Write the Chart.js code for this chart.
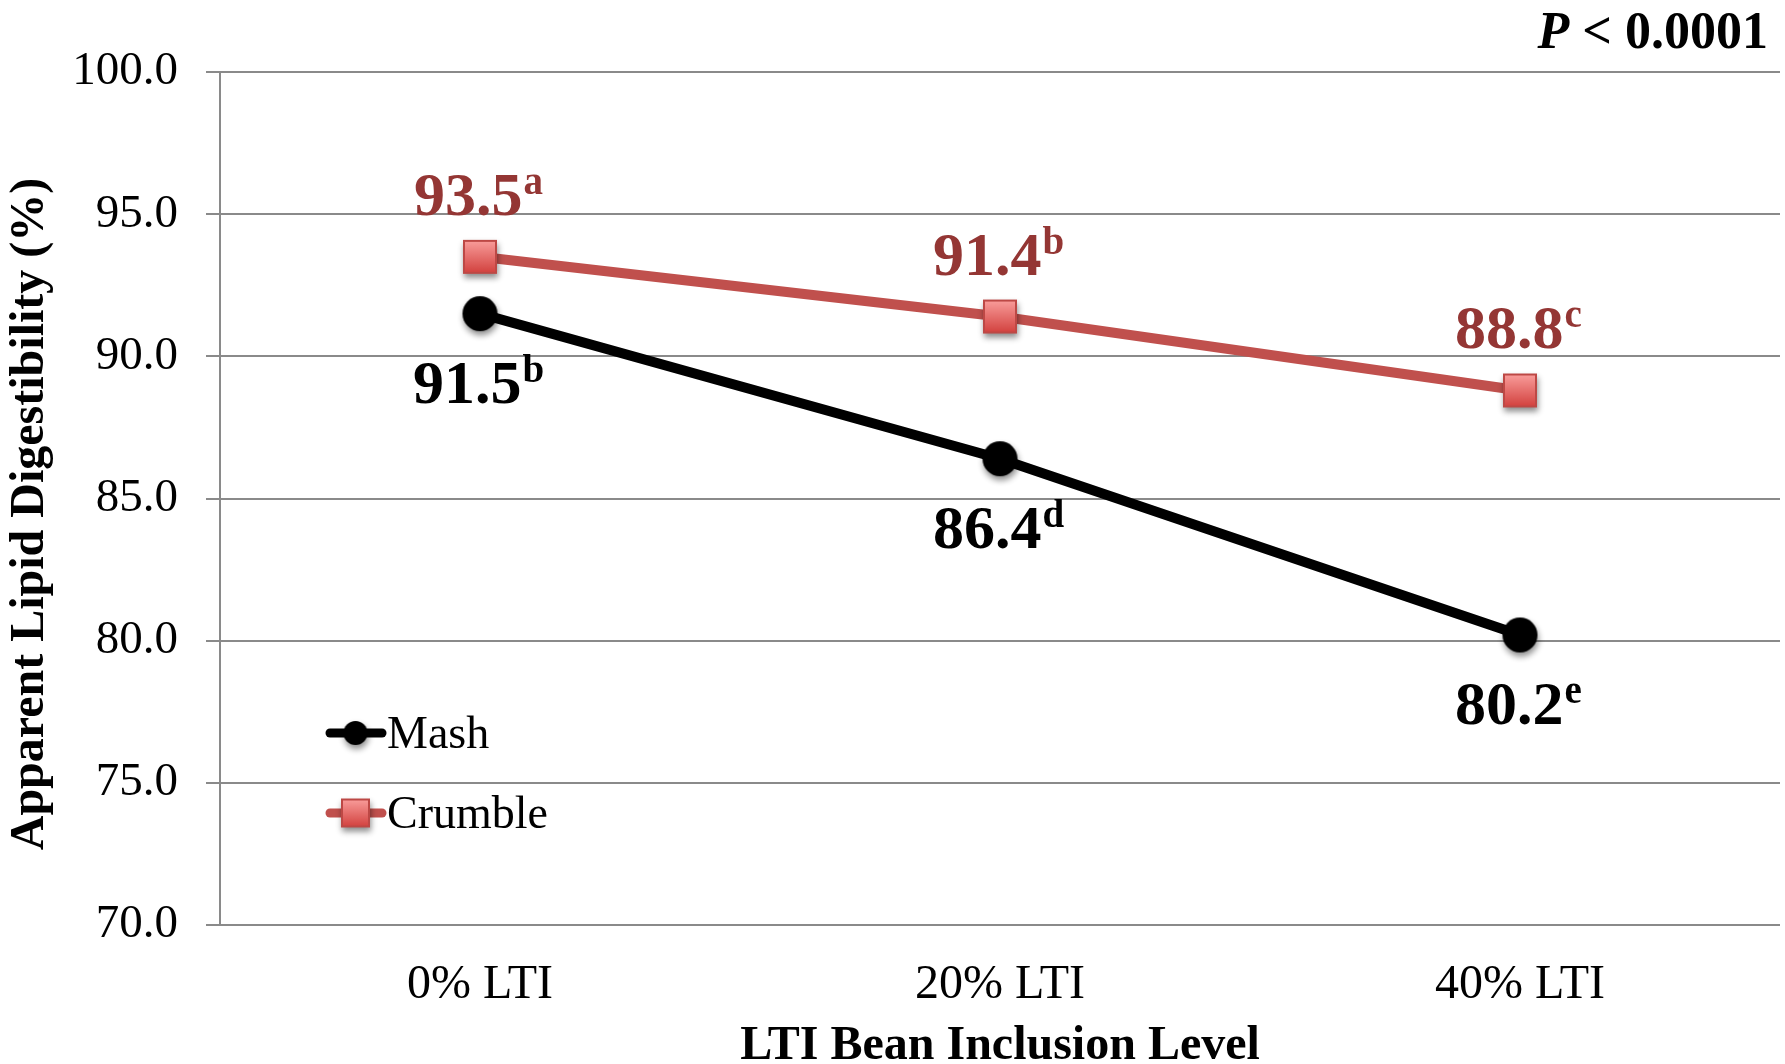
<!DOCTYPE html>
<html>
<head>
<meta charset="utf-8">
<title>Apparent Lipid Digestibility</title>
<script src="https://cdn.jsdelivr.net/npm/chart.js@4/dist/chart.umd.min.js"></script>
<style>
  html, body { margin: 0; padding: 0; background: #ffffff; overflow: hidden; }
  #wrap { width: 1785px; height: 1064px; position: relative; }
  #chart { display: block; }
</style>
</head>
<body>
<div id="wrap"><canvas id="chart"></canvas></div>
<script>
// ---- data ----
const categories = ['0% LTI', '20% LTI', '40% LTI'];
const mashValues = [91.5, 86.4, 80.2];
const crumbleValues = [93.5, 91.4, 88.8];
const mashLetters = ['b', 'd', 'e'];
const crumbleLetters = ['a', 'b', 'c'];
const yTickLabels = ['70.0', '75.0', '80.0', '85.0', '90.0', '95.0', '100.0'];
const seriesNames = ['Mash', 'Crumble'];
const xTitle = 'LTI Bean Inclusion Level';
const yTitle = 'Apparent Lipid Digestibility (%)';
const pItalic = 'P';
const pRest = ' < 0.0001';

// ---- style ----
const SERIF = '"Liberation Serif", "Times New Roman", Times, serif';
const GRID = '#8a8a8a';
const CRUMBLE_LINE = '#c0504d';
const CRUMBLE_TEXT = '#943634';

// Marker sprites with a soft drop shadow
function markerCanvas(kind, size) {
  const pad = 12;
  const dim = Math.round(size + pad * 2);
  const cv = document.createElement('canvas');
  cv.width = dim; cv.height = dim;
  const g = cv.getContext('2d');
  const c = dim / 2, h = size / 2;
  g.save();
  g.shadowColor = 'rgba(0,0,0,0.45)';
  g.shadowBlur = 6;
  g.shadowOffsetX = 1;
  g.shadowOffsetY = 4;
  if (kind === 'circle') {
    g.beginPath();
    g.arc(c, c, h, 0, Math.PI * 2);
    g.fillStyle = '#000000';
    g.fill();
    g.restore();
  } else {
    const grad = g.createLinearGradient(0, c - h, 0, c + h);
    grad.addColorStop(0, '#fa9f9d');
    grad.addColorStop(1, '#d13f3c');
    g.fillStyle = grad;
    g.fillRect(c - h, c - h, size, size);
    g.restore();
    g.strokeStyle = '#bd4845';
    g.lineWidth = 2;
    g.strokeRect(c - h + 1, c - h + 1, size - 2, size - 2);
  }
  return cv;
}

const mashMarker = markerCanvas('circle', 35);
const crumbleMarker = markerCanvas('square', 34);
const mashLegendMarker = markerCanvas('circle', 24);
const crumbleLegendMarker = markerCanvas('square', 29);

// Value labels with superscript letters
const valueLabels = {
  id: 'valueLabels',
  afterDatasetsDraw(chart) {
    const ctx = chart.ctx;
    const sets = [
      { idx: 0, letters: mashLetters, color: '#000000', dy: 89 },
      { idx: 1, letters: crumbleLetters, color: CRUMBLE_TEXT, dy: -42 }
    ];
    ctx.save();
    sets.forEach(s => {
      const meta = chart.getDatasetMeta(s.idx);
      const values = chart.data.datasets[s.idx].data;
      meta.data.forEach((pt, i) => {
        const num = values[i].toFixed(1);
        const sup = s.letters[i];
        ctx.font = 'bold 62px ' + SERIF;
        const wn = ctx.measureText(num).width;
        ctx.font = 'bold 39px ' + SERIF;
        const ws = ctx.measureText(sup).width;
        const x0 = pt.x - (wn + ws) / 2 - 2;
        const base = pt.y + s.dy;
        ctx.fillStyle = s.color;
        ctx.textAlign = 'left';
        ctx.textBaseline = 'alphabetic';
        ctx.font = 'bold 62px ' + SERIF;
        ctx.fillText(num, x0, base);
        ctx.font = 'bold 39px ' + SERIF;
        ctx.fillText(sup, x0 + wn + 1, base - 21);
      });
    });
    ctx.restore();
  }
};

// In-plot legend: line segment with marker, then the series name
const plotLegend = {
  id: 'plotLegend',
  afterDraw(chart) {
    const ctx = chart.ctx;
    const items = [
      { ds: 0, marker: mashLegendMarker, y: 733 },
      { ds: 1, marker: crumbleLegendMarker, y: 813 }
    ];
    ctx.save();
    items.forEach(it => {
      const ds = chart.data.datasets[it.ds];
      ctx.strokeStyle = ds.borderColor;
      ctx.lineWidth = 9;
      ctx.lineCap = 'round';
      ctx.beginPath();
      ctx.moveTo(330, it.y);
      ctx.lineTo(382, it.y);
      ctx.stroke();
      const m = it.marker;
      ctx.drawImage(m, 355.5 - m.width / 2, it.y - m.height / 2);
      ctx.fillStyle = '#000000';
      ctx.font = '46px ' + SERIF;
      ctx.textAlign = 'left';
      ctx.textBaseline = 'alphabetic';
      ctx.fillText(ds.label, 387, it.y + 15);
    });
    ctx.restore();
  }
};

// Y axis title and the significance note
const extraText = {
  id: 'extraText',
  afterDraw(chart) {
    const ctx = chart.ctx;
    ctx.save();
    ctx.fillStyle = '#000000';
    ctx.translate(31, 514);
    ctx.rotate(-Math.PI / 2);
    ctx.font = 'bold 48px ' + SERIF;
    ctx.textAlign = 'center';
    ctx.textBaseline = 'middle';
    ctx.fillText(yTitle, 0, 0);
    ctx.restore();

    ctx.save();
    ctx.fillStyle = '#000000';
    ctx.textBaseline = 'alphabetic';
    ctx.textAlign = 'left';
    ctx.font = 'bold 52px ' + SERIF;
    const wRest = ctx.measureText(pRest).width;
    ctx.font = 'italic bold 52px ' + SERIF;
    const wP = ctx.measureText(pItalic).width;
    const right = 1768, base = 48;
    ctx.fillText(pItalic, right - wRest - wP, base);
    ctx.font = 'bold 52px ' + SERIF;
    ctx.fillText(pRest, right - wRest, base);
    ctx.restore();
  }
};

new Chart(document.getElementById('chart'), {
  type: 'line',
  data: {
    labels: categories,
    datasets: [
      {
        label: seriesNames[0],
        data: mashValues,
        borderColor: '#000000',
        backgroundColor: '#000000',
        borderWidth: 10,
        pointStyle: mashMarker,
        tension: 0
      },
      {
        label: seriesNames[1],
        data: crumbleValues,
        borderColor: CRUMBLE_LINE,
        backgroundColor: CRUMBLE_LINE,
        borderWidth: 10,
        pointStyle: crumbleMarker,
        tension: 0
      }
    ]
  },
  options: {
    responsive: true,
    maintainAspectRatio: false,
    animation: false,
    devicePixelRatio: 1,
    layout: { autoPadding: false, padding: { top: 72, right: 5, left: 0, bottom: 0 } },
    plugins: {
      legend: { display: false },
      tooltip: { enabled: false },
      title: { display: false }
    },
    scales: {
      x: {
        type: 'category',
        offset: true,
        grid: { display: false, drawTicks: false },
        border: { display: false },
        ticks: {
          padding: 32,
          color: '#000000',
          font: { family: SERIF, size: 48 }
        },
        title: {
          display: true,
          text: xTitle,
          color: '#000000',
          font: { family: SERIF, size: 48, weight: 'bold', lineHeight: 0.733 },
          padding: 0
        },
        afterFit(scale) {
          scale.height = 139;
          scale.paddingLeft = 0;
          scale.paddingRight = 0;
        }
      },
      y: {
        min: 70,
        max: 100,
        grid: { color: GRID, lineWidth: 2, drawTicks: true, tickLength: 14 },
        border: { display: true, color: GRID, width: 2 },
        ticks: {
          stepSize: 5,
          padding: 28,
          color: '#000000',
          font: { family: SERIF, size: 47 },
          callback: (value, index) => yTickLabels[index]
        },
        afterFit(scale) { scale.width = 220; }
      }
    }
  },
  plugins: [valueLabels, plotLegend, extraText]
});
</script>
</body>
</html>
